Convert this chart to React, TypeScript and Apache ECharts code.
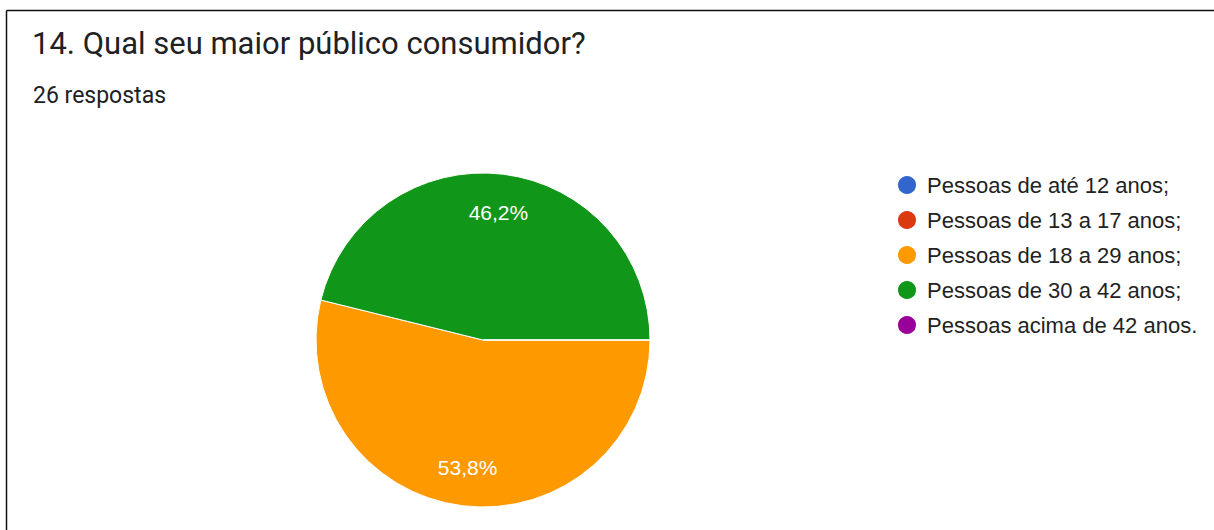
import React, { useEffect, useRef } from "react";
import * as echarts from "echarts";

// Age groups and answer counts (26 responses)
const categories = [
  "Pessoas de até 12 anos;",
  "Pessoas de 13 a 17 anos;",
  "Pessoas de 18 a 29 anos;",
  "Pessoas de 30 a 42 anos;",
  "Pessoas acima de 42 anos.",
];
const counts = [0, 0, 14, 12, 0];
const colors = ["#3366cc", "#dc3912", "#ff9900", "#109618", "#990099"];

const titleText = "14. Qual seu maior público consumidor?";
const subtitleText = "26 respostas";

const CX = 483;
const CY = 340;
const R = 167;

export default function App() {
  const ref = useRef<HTMLDivElement>(null);

  useEffect(() => {
    if (!ref.current) return;
    const chart = echarts.init(ref.current, undefined, { renderer: "svg" });

    const sliceData = categories.map((name, i) => ({
      name,
      value: counts[i],
      itemStyle: { color: colors[i] },
    }));

    const fmt = (p: any) =>
      p.value > 0 ? p.percent.toFixed(1).replace(".", ",") + "%" : "";

    chart.setOption({
      animation: false,
      backgroundColor: "#ffffff",
      title: [
        {
          text: titleText,
          left: 32,
          top: 28,
          padding: 0,
          textStyle: {
            fontFamily: "Roboto",
            fontSize: 31,
            fontWeight: "normal",
            color: "#202124",
          },
        },
        {
          text: subtitleText,
          left: 33,
          top: 84,
          padding: 0,
          textStyle: {
            fontFamily: "Roboto",
            fontSize: 23,
            fontWeight: "normal",
            color: "#202124",
          },
        },
      ],
      legend: {
        orient: "vertical",
        left: 896,
        top: 174,
        padding: 0,
        icon: "circle",
        itemWidth: 20,
        itemHeight: 20,
        itemGap: 13,
        selectedMode: false,
        data: categories.map((name, i) => ({
          name,
          itemStyle: { color: colors[i] },
        })),
        textStyle: {
          fontFamily: "Liberation Sans, Arial, sans-serif",
          fontSize: 22,
          color: "#222222",
          lineHeight: 20,
          padding: [0, 0, 0, 5],
        },
      },
      series: [
        {
          type: "pie",
          center: [CX, CY],
          radius: [0, R],
          startAngle: 0,
          clockwise: true,
          percentPrecision: 1,
          silent: true,
          itemStyle: { borderColor: "#ffffff", borderWidth: 1 },
          label: { show: false },
          labelLine: { show: false },
          data: sliceData,
        },
        {
          // transparent ring used only to place the percentage labels
          type: "pie",
          center: [CX, CY],
          radius: [83, R],
          startAngle: 0,
          clockwise: true,
          percentPrecision: 1,
          silent: true,
          itemStyle: { color: "rgba(0,0,0,0)", borderWidth: 0 },
          label: {
            show: true,
            position: "inside",
            formatter: fmt,
            fontFamily: "Liberation Sans, Arial, sans-serif",
            fontSize: 21,
            color: "#ffffff",
          },
          labelLine: { show: false },
          data: categories.map((name, i) => ({ name, value: counts[i] })),
        },
      ],
      graphic: [
        {
          type: "line",
          shape: { x1: 6.5, y1: 10.5, x2: 1214, y2: 10.5 },
          style: { stroke: "#111111", lineWidth: 1.5 },
          silent: true,
        },
        {
          type: "line",
          shape: { x1: 6.5, y1: 10.5, x2: 6.5, y2: 530 },
          style: { stroke: "#111111", lineWidth: 1.5 },
          silent: true,
        },
      ],
    });

    return () => chart.dispose();
  }, []);

  return (
    <div
      ref={ref}
      style={{
        position: "fixed",
        left: 0,
        top: 0,
        width: 1214,
        height: 530,
        background: "#ffffff",
      }}
    />
  );
}
